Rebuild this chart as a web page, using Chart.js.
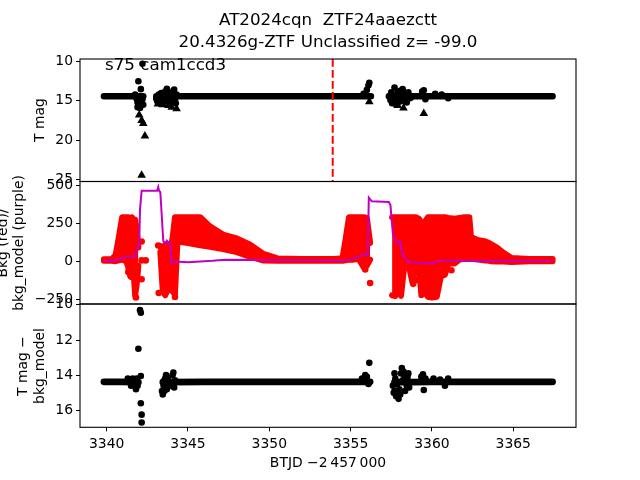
<!DOCTYPE html>
<html><head><meta charset="utf-8">
<script src="https://cdn.jsdelivr.net/npm/chart.js@4/dist/chart.umd.min.js"></script>
<style>
html,body{margin:0;padding:0;background:#fff;}
#wrap{position:relative;width:640px;height:480px;overflow:hidden;background:#fff;}
canvas{position:absolute;left:0;top:0;}
</style></head><body>
<div id="wrap">
<canvas id="c1" width="640" height="480"></canvas>
<canvas id="c2" width="640" height="480"></canvas>
<canvas id="c3" width="640" height="480"></canvas>
</div>
<script>
// ---------------- data ----------------
const xTicks = [3340, 3345, 3350, 3355, 3360, 3365];
const tmagTicks = [10, 15, 20, 25];
const bkgTicks = [-250, 0, 250, 500];
const diffTicks = [10, 12, 14, 16];
const eventT = 3353.9;

// panel 1: T mag
const tmagBandX = [3339.83,3340.8,3341.9,3342.25,3342.6,3343.05,3343.6,3344.3,3346.0,3350.0,3353.0,3355.6,3356.25,3356.8,3357.35,3358.2,3358.7,3359.5,3361.0,3364.0,3367.42];
const tmagBandY = [14.4,14.4,14.4,14.4,null,14.4,14.4,14.4,14.4,14.4,14.4,14.4,14.4,null,14.4,14.4,14.4,14.4,14.4,14.4,14.4];
const tmagDotX = [3341.75,3341.85,3341.9,3341.95,3342.0,3342.05,3342.1,3342.15,3342.2,
  3341.8,3341.95,3342.05,3342.1,3342.2,3342.25,3341.9,
  3343.05,3343.1,3343.2,3343.3,3343.4,3343.5,3343.6,3343.7,3343.75,3343.8,3343.9,3344.1,3344.15,3344.2,3344.3,
  3343.15,3343.25,3343.35,3343.45,3343.55,3343.65,3343.85,3343.95,3344.05,3344.25,
  3355.8,3356.0,3356.1,3356.15,
  3357.4,3357.5,3357.6,3357.7,3357.8,3357.9,3358.0,3358.1,3358.2,3358.3,3358.4,3358.5,3358.6,3358.7,
  3357.45,3357.55,3357.65,3357.75,3357.85,3357.95,3358.05,3358.15,3358.25,3358.35,3358.45,3358.55,
  3359.4,3359.5,3359.6,3360.2,3360.6,3361.0];
const tmagDotY = [14.2,14.75,15.2,12.5,15.6,15.9,13.5,14.5,10.25,
  14.5,14.9,14.6,15.4,14.8,15.5,15.8,
  14.7,15.0,14.2,14.9,15.2,14.0,13.8,13.45,14.3,15.0,15.3,13.7,13.55,14.9,14.2,
  14.5,15.3,14.0,14.6,15.1,14.6,14.0,14.7,14.3,15.3,
  14.1,13.6,13.0,12.7,
  14.4,13.9,15.0,13.3,15.5,13.8,15.1,14.0,13.5,15.0,14.8,14.1,14.7,14.6,
  14.9,15.3,14.3,14.8,14.2,14.6,13.7,14.5,14.3,14.0,15.2,13.9,
  13.8,13.65,14.8,14.1,14.2,14.65];
const tmagLimX = [3342.0,3342.15,3342.25,3342.35,3342.15,3343.15,3343.45,3343.8,3344.0,3344.3,3356.15,3357.9,3358.25,3359.5];
const tmagLimY = [16.8,17.5,17.9,19.5,24.5,15.4,15.5,15.6,15.8,16.0,15.1,15.6,15.9,16.6];

// panel 2: background (red envelope + outliers) and background model (purple)
const bkgX = [
  3339.83,3340.3,3340.55,3340.75,3340.95,3341.2,3341.3,3341.45,3341.55,3341.65,3341.75,3341.85,3341.95,
  3342.6,
  3343.3,3343.45,3343.6,3343.75,3343.9,3344.05,3344.2,3344.35,3345.0,3345.75,3346.35,3347.15,3348.0,3348.8,3349.6,3350.5,3352.0,3354.0,3354.5,3354.7,3354.9,3355.2,3355.5,3355.8,3356.0,3356.2,
  3356.9,
  3357.55,3357.75,3357.95,3358.1,3358.3,3358.6,3358.8,3359.0,3359.2,3359.35,3359.55,3359.75,3360.0,3360.3,3360.55,3360.8,3361.0,3361.4,3361.7,3362.0,3362.3,3362.4,3362.8,3363.3,3363.6,3364.0,3364.4,3364.9,3366.0,3367.42];
const bkgUp = [
  12,12,40,160,290,290,290,285,290,275,275,200,90,
  null,
  100,60,110,115,80,150,290,290,290,290,230,175,150,110,50,18,15,15,20,150,290,290,290,290,285,120,
  null,
  290,290,290,290,290,290,290,290,280,255,255,290,290,290,290,290,285,280,285,290,290,160,140,130,115,90,55,20,14,14];
const bkgLo = [
  2,2,0,5,10,0,-30,-100,-20,-60,-225,-150,-30,
  null,
  60,-200,-225,-190,20,-200,-220,130,120,105,95,80,60,30,5,2,2,2,2,5,10,10,15,-40,-30,10,
  null,
  -225,-230,-100,-230,-30,-40,-140,-30,-20,-225,-200,-235,-240,-235,-100,-90,-15,-15,10,15,15,15,10,5,0,-3,-3,-5,0,0];
const bkgDotX = [3341.33,3341.54,3341.8,3342.15,3342.15,3342.15,3342.4,3343.17,3343.2,3344.2,3355.9,3356.2,3358.85,3359.05,3361.2];
const bkgDotY = [-72,-105,-240,130,5,-120,5,103,-210,-237,-55,-145,-150,-125,-60];
const bkgModelX = [3339.83,3340.5,3341.2,3341.75,3341.85,3342.0,3342.05,3342.15,3342.3,3343.1,3343.17,3343.22,3343.3,3343.48,3343.59,3343.7,3343.8,3343.9,3344.0,3344.2,3345.0,3346.5,3347.3,3350.0,3353.0,3354.5,3355.0,3355.4,3355.9,3356.05,3356.12,3356.3,3357.35,3357.45,3357.6,3357.7,3357.85,3358.05,3358.15,3358.5,3359.25,3359.7,3359.9,3360.2,3360.35,3360.5,3361.1,3362.0,3365.0,3367.42];
const bkgModelY = [3,3,30,30,80,103,340,465,465,465,490,465,455,135,114,135,120,125,-15,-2,-8,2,10,8,5,3,10,25,45,40,420,395,390,370,180,150,115,135,50,-2,-10,-15,-12,-15,3,2,2,3,3,3];

// panel 3: T mag - bkg_model
const diffBandX = [3339.83,3340.8,3341.95,3342.6,3344.0,3346.0,3350.0,3353.0,3356.2,3356.9,3357.7,3358.7,3360.0,3363.0,3367.42];
const diffBandY = [14.38,14.38,14.4,null,14.4,14.38,14.38,14.38,14.38,null,14.4,14.4,14.38,14.38,14.38];
const diffDotX = [3342.05,3342.1,3341.95,3342.1,3342.1,3342.15,3342.15,
  3341.3,3341.5,3341.6,3341.7,3341.8,3341.85,3341.9,
  3343.4,3343.45,3343.5,3343.55,3343.6,3343.65,3343.7,3343.8,3343.9,3344.05,3344.1,3344.15,3344.2,
  3343.45,3343.55,3343.75,3344.05,
  3355.7,3355.9,3356.0,3356.1,3356.15,
  3357.6,3357.65,3357.75,3357.8,3357.9,3357.95,3358.0,3358.1,3358.15,3358.25,3358.35,3358.45,3358.5,3358.6,
  3357.7,3357.85,3358.05,3358.2,3358.3,3358.4,3357.7,3358.55,
  3359.35,3359.45,3359.5,3359.6,3360.1,3360.5,3360.8,3361.0];
const diffDotY = [10.3,10.45,12.5,14.05,15.6,16.25,16.7,
  14.2,14.6,14.2,14.5,14.8,14.2,14.6,
  14.9,15.1,14.6,14.9,14.2,14.0,14.8,14.5,14.6,14.0,13.85,14.7,14.3,
  14.4,14.3,14.2,14.6,
  14.2,14.0,14.1,14.5,13.3,
  14.6,15.0,14.2,15.2,14.9,15.35,14.8,13.9,13.6,13.8,14.9,14.6,14.1,14.7,
  14.9,14.5,15.1,14.3,14.0,14.4,13.9,13.9,
  14.1,13.95,14.85,14.2,14.2,14.25,14.6,14.2];

// ---------------- helpers ----------------
const FONT = "'DejaVu Sans', sans-serif";
Chart.defaults.font.family = FONT;
Chart.defaults.font.size = 13.9;
Chart.defaults.color = '#000';
Chart.defaults.animation = false;

const XMIN = 3338.36, XMAX = 3368.86;
const T1 = {min: 9.65, max: 25.3};
const B2 = {min: -283, max: 526};
const D3 = {min: 9.95, max: 16.97};

function pts(xs, ys) { return xs.map((x, i) => ({x: x, y: ys[i]})); }
function fmt(v) { return String(v).replace('-', '\u2212'); }

function yAxis(r, reverse, ticks) {
  return {
    type: 'linear', min: r.min, max: r.max, reverse: reverse,
    afterFit(s) { s.width = 50; },
    afterBuildTicks(s) { s.ticks = ticks.map(v => ({value: v})); },
    grid: {drawOnChartArea: false, drawTicks: true, tickLength: 4, color: '#000', tickColor: '#000', lineWidth: 1},
    border: {display: false},
    ticks: {padding: 3, autoSkip: false, callback: v => fmt(v)}
  };
}
function xAxis(show) {
  const ax = {
    type: 'linear', min: XMIN, max: XMAX, display: show,
    afterBuildTicks(s) { s.ticks = xTicks.map(v => ({value: v})); },
    grid: {drawOnChartArea: false, drawTicks: true, tickLength: 4, color: '#000', tickColor: '#000', lineWidth: 1},
    border: {display: false},
    ticks: {padding: 5, autoSkip: false, maxRotation: 0, callback: v => fmt(v)}
  };
  if (show) ax.afterFit = s => { s.height = 26; };
  return ax;
}
const boxPlugin = {
  id: 'box',
  afterDraw(chart) {
    const a = chart.chartArea, c = chart.ctx;
    c.save(); c.strokeStyle = '#000'; c.lineWidth = 1.1;
    c.strokeRect(a.left, a.top, a.right - a.left, a.bottom - a.top);
    c.restore();
  }
};
function textPlugin(items) {
  return {
    id: 'txt',
    afterDraw(chart) {
      const c = chart.ctx;
      items.forEach(t => {
        c.save();
        c.font = (t.size || 13.9) + 'px ' + FONT;
        c.fillStyle = '#000';
        c.textAlign = t.align || 'center';
        c.textBaseline = t.base || 'middle';
        c.translate(t.x, t.y);
        if (t.rot) c.rotate(-Math.PI / 2);
        c.fillText(t.text, 0, 0);
        c.restore();
      });
    }
  };
}
function baseOpts(pad, scales) {
  return {
    responsive: false, animation: false, events: [],
    layout: {padding: pad},
    plugins: {legend: {display: false}, tooltip: {enabled: false}},
    scales: scales
  };
}
function lineDs(data, color, width, extra) {
  return Object.assign({data: data, borderColor: color, backgroundColor: color, borderWidth: width,
    pointRadius: 0, showLine: true, fill: false, tension: 0, spanGaps: false,
    borderCapStyle: 'round', borderJoinStyle: 'round'}, extra || {});
}
function dotDs(data, color, r, style) {
  return {data: data, showLine: false, pointRadius: r, pointStyle: style || 'circle',
    pointBackgroundColor: color, pointBorderColor: color, pointBorderWidth: 0, borderColor: color, backgroundColor: color};
}

// ---------------- panel 1 ----------------
new Chart(document.getElementById('c1'), {
  type: 'line',
  data: {datasets: [
    lineDs([{x: eventT, y: T1.min}, {x: eventT, y: T1.max}], '#ff0000', 2, {borderDash: [7.7, 3.3], borderCapStyle: 'butt'}),
    dotDs(pts(tmagLimX, tmagLimY), '#000', 5, 'triangle'),
    dotDs(pts(tmagDotX, tmagDotY), '#000', 3.3),
    lineDs(pts(tmagBandX, tmagBandY), '#000', 6.5)
  ]},
  options: baseOpts({left: 30, right: 64, top: 59, bottom: 298.5},
    {x: xAxis(false), y: yAxis(T1, true, tmagTicks)}),
  plugins: [boxPlugin, textPlugin([
    {text: 'AT2024cqn  ZTF24aaezctt', x: 328, y: 21, size: 16.7},
    {text: '20.4326g-ZTF Unclassified z= -99.0', x: 328, y: 43, size: 16.7},
    {text: 's75 cam1ccd3', x: 105, y: 70, size: 16.7, align: 'left', base: 'alphabetic'},
    {text: 'T mag', x: 40, y: 120, rot: true}
  ])]
});

// ---------------- panel 2 ----------------
new Chart(document.getElementById('c2'), {
  type: 'line',
  data: {datasets: [
    lineDs(pts(bkgModelX, bkgModelY), '#bf00bf', 2, {borderJoinStyle: 'miter', borderCapStyle: 'butt'}),
    dotDs(pts(bkgDotX, bkgDotY), '#ff0000', 3.3),
    lineDs(pts(bkgX, bkgUp), '#ff0000', 6, {fill: '+1'}),
    lineDs(pts(bkgX, bkgLo), '#ff0000', 6)
  ]},
  options: baseOpts({left: 30, right: 64, top: 181.5, bottom: 176},
    {x: xAxis(false), y: yAxis(B2, false, bkgTicks)}),
  plugins: [boxPlugin, textPlugin([
    {text: 'Bkg (red)/', x: 3, y: 243, rot: true},
    {text: 'bkg_model (purple)', x: 19.5, y: 243, rot: true}
  ])]
});

// ---------------- panel 3 ----------------
new Chart(document.getElementById('c3'), {
  type: 'line',
  data: {datasets: [
    dotDs(pts(diffDotX, diffDotY), '#000', 3.3),
    lineDs(pts(diffBandX, diffBandY), '#000', 6.8)
  ]},
  options: baseOpts({left: 30, right: 64, top: 304, bottom: 26.7},
    {x: xAxis(true), y: yAxis(D3, true, diffTicks)}),
  plugins: [boxPlugin, textPlugin([
    {text: 'T mag \u2212', x: 23, y: 366, rot: true},
    {text: 'bkg_model', x: 40, y: 366, rot: true},
    {text: 'BTJD \u22122\u2009457\u2009000', x: 328, y: 463}
  ])]
});
</script>
</body></html>
